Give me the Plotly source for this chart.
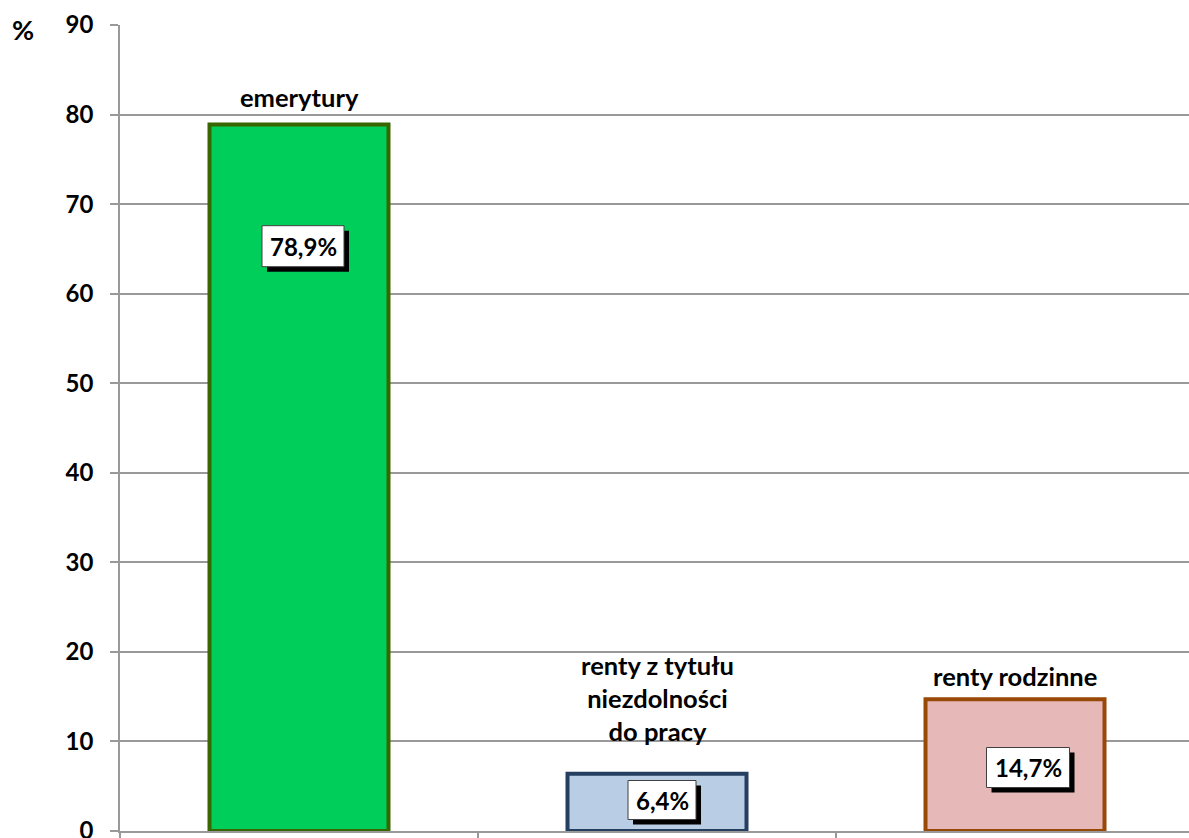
import plotly.graph_objects as go

# ---- data ----
categories = ["emerytury", "renty z tytułu<br>niezdolności<br>do pracy", "renty rodzinne"]
values = [78.9, 6.4, 14.7]
value_labels = ["78,9%", "6,4%", "14,7%"]
y_ticks = [0, 10, 20, 30, 40, 50, 60, 70, 80, 90]

# ---- styling (kept separate from data) ----
fill_colors = ["#00CE5A", "#B9CDE5", "#E6B9B8"]
line_colors = ["#386600", "#243F60", "#984807"]
label_y = [65.3, 3.46, 7.09]        # vertical centre of the value boxes (axis units)
label_dx = [4, 5, 13]               # horizontal pixel offsets of value boxes
box_w = [82, 68, 83]                # value box sizes in pixels
box_h = [41, 39, 40]
cat_shift = [10, 26, 6]             # pixel gap between bar top and category label
FONT = "Lato"

x = list(range(len(categories)))
boundaries = [x[0] - 0.5] + [(x[i] + x[i + 1]) / 2 for i in range(len(x) - 1)] + [x[-1] + 0.5]

fig = go.Figure()
fig.add_trace(go.Bar(
    x=x, y=values, width=0.5,
    marker=dict(color=fill_colors, line=dict(color=line_colors, width=4)),
    hoverinfo="skip",
))

annotations = []
shapes = []
for i in range(len(values)):
    annotations.append(dict(
        x=x[i], y=values[i], xref="x", yref="y", text=categories[i],
        showarrow=False, yanchor="bottom", yshift=cat_shift[i],
        font=dict(family=FONT, size=25.5, color="black", weight="bold"),
        align="center",
    ))
    hw, hh, dx = box_w[i] / 2, box_h[i] / 2, label_dx[i]
    shapes.append(dict(
        type="rect", xref="x", yref="y", xsizemode="pixel", ysizemode="pixel",
        xanchor=x[i], yanchor=label_y[i],
        x0=dx - hw + 5, x1=dx + hw + 5, y0=-hh - 5, y1=hh - 5,
        fillcolor="black", line=dict(width=0), layer="above",
    ))
    shapes.append(dict(
        type="rect", xref="x", yref="y", xsizemode="pixel", ysizemode="pixel",
        xanchor=x[i], yanchor=label_y[i],
        x0=dx - hw, x1=dx + hw, y0=-hh, y1=hh,
        fillcolor="white", line=dict(color="#404040", width=1), layer="above",
    ))
    annotations.append(dict(
        x=x[i], y=label_y[i], xref="x", yref="y", text=value_labels[i],
        showarrow=False, xshift=dx,
        font=dict(family=FONT, size=24, color="black", weight="bold"),
    ))

annotations.append(dict(
    x=-0.0907, y=0.994, xref="paper", yref="paper", text="%",
    xanchor="center", yanchor="middle", showarrow=False,
    font=dict(family=FONT, size=27, color="black", weight="bold"),
))

fig.update_layout(
    width=1189, height=838,
    margin=dict(l=120, r=0, t=25, b=7, autoexpand=False),
    paper_bgcolor="white", plot_bgcolor="white",
    showlegend=False,
    annotations=annotations,
    shapes=shapes,
    xaxis=dict(
        range=[-0.5, 2.486], showticklabels=False, tickvals=boundaries,
        ticks="outside", ticklen=8, tickcolor="#999999", tickwidth=1.5,
        showline=True, linecolor="#999999", linewidth=1.5,
        showgrid=False, zeroline=False, automargin=False,
    ),
    yaxis=dict(
        range=[0, 90], tickvals=y_ticks,
        ticks="outside", ticklen=8, tickcolor="#999999", tickwidth=1.5,
        showline=True, linecolor="#999999", linewidth=1.5,
        showgrid=True, gridcolor="#999999", gridwidth=1.5,
        zeroline=False, automargin=False,
        tickfont=dict(family=FONT, size=24, color="black", weight="bold"),
        ticklabelstandoff=12, ticklabeloverflow="allow",
    ),
)

fig.write_html("out.html", config={"displayModeBar": False},
               post_script="document.body.style.margin='0';")
